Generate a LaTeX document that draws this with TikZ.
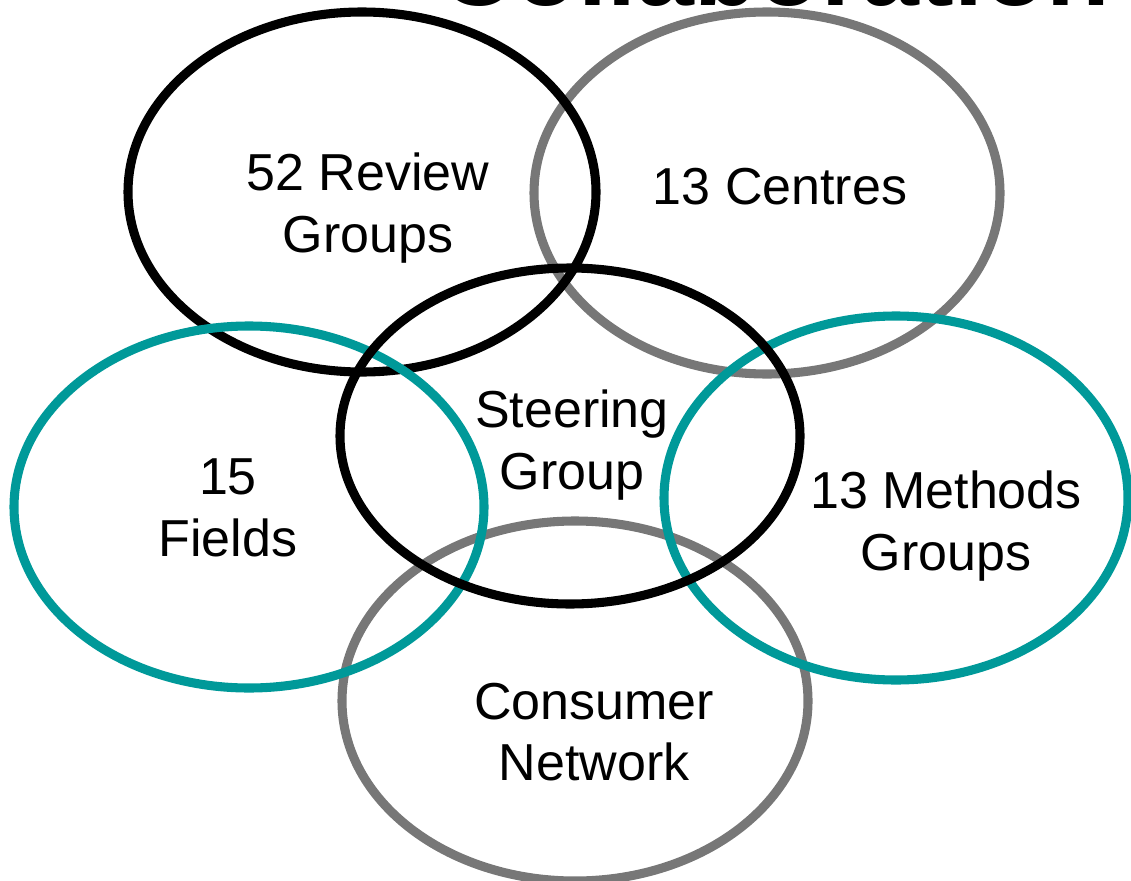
\documentclass[tikz,border=0pt]{standalone}
\usepackage{fontspec}
\setmainfont{Liberation Sans}
\usepackage{tikz}
\definecolor{tealring}{RGB}{0,153,153}
\definecolor{grayring}{RGB}{119,119,119}

\begin{document}
\begin{tikzpicture}[x=0.75pt,y=0.75pt,yscale=-1,xscale=1,
  ring/.style={line width=6.8pt},
  label/.style={inner sep=0pt,align=center,font=\fontsize{39}{46}\selectfont}]
\useasboundingbox (0,0) rectangle (1131,881);

%Title, cut off at the top
\node (title) [anchor=base,inner sep=0pt,font=\fontsize{78}{90}\selectfont\bfseries] at (775,6) {Collaboration};

%Shape: Ellipse [Centres]
\draw [ring,grayring] (767,193) ellipse (233 and 181);
%Shape: Ellipse [Review Groups]
\draw [ring,black] (362,192) ellipse (234 and 180);
%Shape: Ellipse [Consumer Network]
\draw [ring,grayring] (575,701) ellipse (233 and 180);
%Shape: Ellipse [Fields]
\draw [ring,tealring] (249,507) ellipse (235 and 181);
%Shape: Ellipse [Methods Groups]
\draw [ring,tealring] (896,498) ellipse (232 and 182);
%Shape: Ellipse [Steering Group]
\draw [ring,black] (570,436) ellipse (230 and 168);

% Text Node
\node (review) [label] at (368,208) {52 Review\\Groups};
% Text Node
\node (centres) [label] at (780,187) {13 Centres};
% Text Node
\node (steering) [label] at (572,445) {Steering\\Group};
% Text Node
\node (fields) [label] at (228,508) {15\\Fields};
% Text Node
\node (methods) [label] at (946,526) {13 Methods\\Groups};
% Text Node
\node (consumer) [label] at (594,732) {Consumer\\Network};

\end{tikzpicture}
\end{document}
